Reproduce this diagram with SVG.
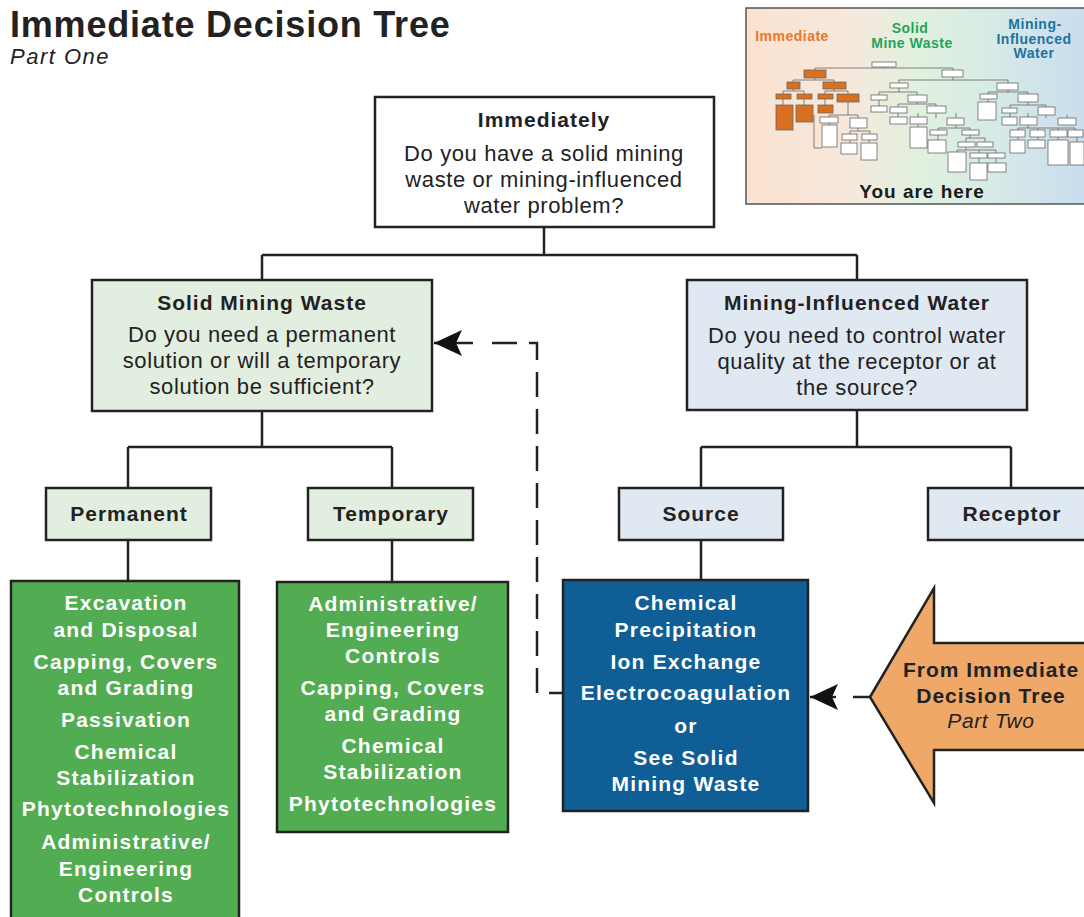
<svg xmlns="http://www.w3.org/2000/svg" width="1084" height="917" viewBox="0 0 1084 917">
<defs>
<style>
text{font-family:"Liberation Sans",Arial,Helvetica,sans-serif;fill:#222;text-anchor:middle}
.ttl{font-weight:bold;font-size:36px;letter-spacing:0.8px;text-anchor:start}
.sub{font-style:italic;font-size:22px;letter-spacing:1.5px;text-anchor:start}
.h{font-weight:bold;font-size:21px;letter-spacing:1px}
.b{font-size:22px;letter-spacing:0.6px}
.w{font-weight:bold;font-size:21px;letter-spacing:1.2px;fill:#fff}
.box{stroke:#222;stroke-width:2.5}
.q{fill:#fff}
.lg{fill:#e2efe0}
.lb{fill:#e0e8f1}
.g{fill:#52ac51}
.bl{fill:#0f5e95}
.con{fill:none;stroke:#222;stroke-width:2.5}
.mini{stroke:#666;stroke-width:0.8}
.mo{fill:#d9701f}
.mw{fill:#fff}
.ml{fill:none;stroke:#666;stroke-width:0.8}
.il{font-weight:bold;font-size:14px;letter-spacing:0.5px}
</style>
<linearGradient id="insetbg" x1="0" y1="0" x2="1" y2="0">
<stop offset="0" stop-color="#fbe2d0"/>
<stop offset="0.3" stop-color="#f6e8dc"/>
<stop offset="0.5" stop-color="#e1f1df"/>
<stop offset="0.7" stop-color="#d7ebe6"/>
<stop offset="1" stop-color="#c9dcef"/>
</linearGradient>
<marker id="arr" viewBox="0 0 28 26" refX="28" refY="13" markerWidth="28" markerHeight="26" orient="auto" markerUnits="userSpaceOnUse">
<path d="M28,13 L0,0 L6,13 L0,26 Z" fill="#111"/>
</marker>
</defs>
<rect width="1084" height="917" fill="#fff"/>

<g id="title">
<text class="ttl" x="10" y="37">Immediate Decision Tree</text>
<text class="sub" x="10" y="64">Part One</text>
</g>

<g id="inset">
<rect x="746" y="8" width="345" height="196" fill="url(#insetbg)" stroke="#555" stroke-width="1.5"/>
<text class="il" x="792" y="41" style="fill:#e8772e">Immediate</text>
<text class="il" x="910" y="33" style="fill:#1fa55a">Solid</text>
<text class="il" x="912" y="48" style="fill:#1fa55a">Mine Waste</text>
<text class="il" x="1035" y="29" style="fill:#1d72a0">Mining-</text>
<text class="il" x="1034" y="44" style="fill:#1d72a0">Influenced</text>
<text class="il" x="1034" y="58" style="fill:#1d72a0">Water</text>
<path class="ml" d="M884,67 V68 M815,68 H953 M815,68 V70 M953,68 V70 M815,78 V80 M793,80 H834 M793,80 V82 M834,80 V82 M793,89 V91 M783,91 H804 M783,91 V94 M804,91 V94 M834,89 V91 M825,91 H848 M825,91 V94 M848,91 V94 M783,99 V105 M804,99 V105 M825,99 V105 M848,102 V115 M829,115 H858 M829,115 V117 M858,115 V118 M829,123 V125 M858,128 V131 M850,131 H870 M850,131 V134 M870,131 V134 M850,140 V143 M869,140 V143 M814,115 V148 H822 M953,77 V80 M899,80 H1008 M899,80 V83 M1008,80 V83 M899,88 V92 M879,92 H917 M879,92 V95 M917,92 V95 M879,100 V106 M917,102 V104 M898,104 H936 M898,104 V107 M936,104 V106 M898,113 V117 M918,113 V117 M936,113 V118 M956,113 V118 M918,124 V127 M956,125 V128 M938,128 H970 M938,128 V130 M970,128 V130 M938,135 V140 M970,135 V138 M966,138 H985 M966,138 V142 M985,138 V142 M966,147 V150 M957,150 H996 M957,150 V152 M979,150 V153 M996,150 V153 M979,158 V163 M996,158 V163 M1008,90 V92 M988,92 H1028 M988,92 V94 M1028,92 V94 M988,99 V102 M1028,102 V105 M1010,105 H1046 M1010,105 V108 M1046,105 V107 M1010,113 V117 M1028,113 V117 M1046,115 V118 M1067,115 V118 M1028,125 V128 M1018,128 H1075 M1018,128 V130 M1038,128 V130 M1058,128 V130 M1075,128 V130 M1018,137 V140 M1038,137 V140 M1058,137 V140 M1077,137 V142"/>
<g class="mini">
<rect class="mw" x="872" y="62" width="24" height="5"/>
<rect class="mo" x="804" y="70" width="22" height="8"/>
<rect class="mw" x="942" y="70" width="21" height="7"/>
<rect class="mo" x="787" y="82" width="13" height="7"/>
<rect class="mo" x="823" y="82" width="23" height="7"/>
<rect class="mo" x="776" y="94" width="15" height="5"/>
<rect class="mo" x="797" y="94" width="15" height="5"/>
<rect class="mo" x="818" y="94" width="15" height="5"/>
<rect class="mo" x="837" y="94" width="22" height="8"/>
<rect class="mo" x="776" y="105" width="17" height="25"/>
<rect class="mo" x="796" y="105" width="17" height="17"/>
<rect class="mo" x="818" y="105" width="15" height="8"/>
<rect class="mw" x="820" y="117" width="18" height="6"/>
<rect class="mw" x="822" y="125" width="15" height="22"/>
<rect class="mw" x="850" y="118" width="17" height="10"/>
<rect class="mw" x="842" y="134" width="15" height="6"/>
<rect class="mw" x="862" y="134" width="15" height="6"/>
<rect class="mw" x="841" y="143" width="16" height="11"/>
<rect class="mw" x="861" y="143" width="16" height="17"/>
<rect class="mw" x="890" y="83" width="18" height="5"/>
<rect class="mw" x="871" y="95" width="16" height="5"/>
<rect class="mw" x="908" y="95" width="19" height="7"/>
<rect class="mw" x="871" y="106" width="16" height="6"/>
<rect class="mw" x="890" y="107" width="17" height="6"/>
<rect class="mw" x="927" y="106" width="19" height="7"/>
<rect class="mw" x="890" y="117" width="17" height="7"/>
<rect class="mw" x="910" y="117" width="17" height="7"/>
<rect class="mw" x="947" y="118" width="17" height="7"/>
<rect class="mw" x="910" y="127" width="17" height="21"/>
<rect class="mw" x="930" y="130" width="17" height="5"/>
<rect class="mw" x="962" y="130" width="17" height="5"/>
<rect class="mw" x="928" y="140" width="18" height="13"/>
<rect class="mw" x="958" y="142" width="17" height="5"/>
<rect class="mw" x="977" y="142" width="16" height="5"/>
<rect class="mw" x="948" y="152" width="18" height="20"/>
<rect class="mw" x="970" y="153" width="17" height="5"/>
<rect class="mw" x="988" y="153" width="17" height="5"/>
<rect class="mw" x="970" y="163" width="17" height="17"/>
<rect class="mw" x="988" y="163" width="18" height="9"/>
<rect class="mw" x="997" y="83" width="21" height="7"/>
<rect class="mw" x="980" y="94" width="17" height="5"/>
<rect class="mw" x="1018" y="94" width="20" height="8"/>
<rect class="mw" x="978" y="102" width="18" height="18"/>
<rect class="mw" x="1002" y="108" width="15" height="5"/>
<rect class="mw" x="1038" y="107" width="17" height="8"/>
<rect class="mw" x="1002" y="117" width="15" height="8"/>
<rect class="mw" x="1020" y="117" width="17" height="8"/>
<rect class="mw" x="1058" y="118" width="18" height="7"/>
<rect class="mw" x="1010" y="130" width="15" height="7"/>
<rect class="mw" x="1030" y="130" width="15" height="7"/>
<rect class="mw" x="1050" y="130" width="17" height="7"/>
<rect class="mw" x="1068" y="130" width="15" height="7"/>
<rect class="mw" x="1010" y="140" width="15" height="13"/>
<rect class="mw" x="1028" y="140" width="17" height="8"/>
<rect class="mw" x="1048" y="140" width="20" height="25"/>
<rect class="mw" x="1070" y="142" width="14" height="23"/>
</g>
<text x="922" y="198" style="font-weight:bold;font-size:19px;letter-spacing:1px;fill:#1a1a1a">You are here</text>
</g>

<g id="connectors">
<path class="con" d="M544,227 V255 M262,255 H857 M262,255 V280 M857,255 V280"/>
<path class="con" d="M262,411 V447 M128,447 H392 M128,447 V488 M392,447 V488"/>
<path class="con" d="M857,410 V447 M701,447 H1011 M701,447 V488 M1011,447 V488"/>
<path class="con" d="M128,540 V581 M392,540 V582 M701,540 V580"/>
<path class="con" d="M492,343 H537 V693 H563" stroke-dasharray="25 12"/>
<path class="con" d="M473,343 H434" marker-end="url(#arr)"/>
<path class="con" d="M870,697 H853"/>
<path class="con" d="M836,697 H810" marker-end="url(#arr)"/>
</g>

<g id="n-immediately">
<rect class="box q" x="375" y="97" width="339" height="130"/>
<text class="h" x="544" y="127">Immediately</text>
<text class="b" x="544" y="161">Do you have a solid mining</text>
<text class="b" x="544" y="187">waste or mining-influenced</text>
<text class="b" x="544" y="213">water problem?</text>
</g>

<g id="n-solid">
<rect class="box lg" x="92" y="280" width="340" height="131"/>
<text class="h" x="262" y="310">Solid Mining Waste</text>
<text class="b" x="262" y="342">Do you need a permanent</text>
<text class="b" x="262" y="368">solution or will a temporary</text>
<text class="b" x="262" y="394">solution be sufficient?</text>
</g>

<g id="n-water">
<rect class="box lb" x="687" y="280" width="340" height="130"/>
<text class="h" x="857" y="310">Mining-Influenced Water</text>
<text class="b" x="857" y="343">Do you need to control water</text>
<text class="b" x="857" y="369">quality at the receptor or at</text>
<text class="b" x="857" y="395">the source?</text>
</g>

<g id="n-permanent">
<rect class="box lg" x="46" y="488" width="165" height="52"/>
<text class="h" x="129" y="521">Permanent</text>
</g>

<g id="n-temporary">
<rect class="box lg" x="308" y="488" width="165" height="52"/>
<text class="h" x="391" y="521">Temporary</text>
</g>

<g id="n-source">
<rect class="box lb" x="619" y="488" width="164" height="52"/>
<text class="h" x="701" y="521">Source</text>
</g>

<g id="n-receptor">
<rect class="box lb" x="928" y="488" width="170" height="52"/>
<text class="h" x="1012" y="521">Receptor</text>
</g>

<g id="n-permanent-options">
<rect class="box g" x="11" y="581" width="228" height="345"/>
<text class="w" x="126" y="610">Excavation</text>
<text class="w" x="126" y="637">and Disposal</text>
<text class="w" x="126" y="669">Capping, Covers</text>
<text class="w" x="126" y="695">and Grading</text>
<text class="w" x="126" y="727">Passivation</text>
<text class="w" x="126" y="759">Chemical</text>
<text class="w" x="126" y="785">Stabilization</text>
<text class="w" x="126" y="816">Phytotechnologies</text>
<text class="w" x="126" y="849">Administrative/</text>
<text class="w" x="126" y="876">Engineering</text>
<text class="w" x="126" y="902">Controls</text>
</g>

<g id="n-temporary-options">
<rect class="box g" x="277" y="582" width="231" height="250"/>
<text class="w" x="393" y="611">Administrative/</text>
<text class="w" x="393" y="637">Engineering</text>
<text class="w" x="393" y="663">Controls</text>
<text class="w" x="393" y="695">Capping, Covers</text>
<text class="w" x="393" y="721">and Grading</text>
<text class="w" x="393" y="753">Chemical</text>
<text class="w" x="393" y="779">Stabilization</text>
<text class="w" x="393" y="811">Phytotechnologies</text>
</g>

<g id="n-source-options">
<rect class="box bl" x="563" y="580" width="245" height="231"/>
<text class="w" x="686" y="610">Chemical</text>
<text class="w" x="686" y="637">Precipitation</text>
<text class="w" x="686" y="669">Ion Exchange</text>
<text class="w" x="686" y="700">Electrocoagulation</text>
<text class="w" x="686" y="733">or</text>
<text class="w" x="686" y="765">See Solid</text>
<text class="w" x="686" y="791">Mining Waste</text>
</g>

<g id="n-part-two">
<path d="M870,697 L934,588 V643 H1100 V750 H934 V803 Z" fill="#f0a868" stroke="#222" stroke-width="2.5" stroke-linejoin="miter"/>
<text class="h" x="991" y="677">From Immediate</text>
<text class="h" x="991" y="703">Decision Tree</text>
<text x="991" y="728" style="font-style:italic;font-size:21px;letter-spacing:0.6px">Part Two</text>
</g>
</svg>
